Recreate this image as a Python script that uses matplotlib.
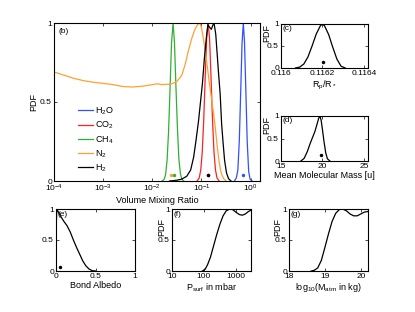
import numpy as np
import matplotlib
matplotlib.use('Agg')
import matplotlib.pyplot as plt

plt.rcParams['font.family'] = ['Liberation Sans', 'DejaVu Sans']
plt.rcParams['mathtext.default'] = 'regular'
plt.rcParams['font.size'] = 6

# ---- (b) volume mixing ratio PDFs, x given as log10(VMR)
h2o_logx = [-0.33, -0.29, -0.26, -0.23, -0.20, -0.175, -0.149, -0.125, -0.10, -0.07, -0.04, -0.01, 0.03]
h2o_pdf = [0, 0.02, 0.07, 0.26, 0.59, 0.87, 1.0, 0.88, 0.60, 0.25, 0.06, 0.01, 0]

co2_logx = [-1.09, -1.045, -1.015, -0.985, -0.955, -0.925, -0.895, -0.865, -0.835, -0.805, -0.775, -0.745, -0.715, -0.685, -0.64]
co2_pdf = [0.0, 0.02, 0.07, 0.18, 0.38, 0.65, 0.90, 1.0, 0.90, 0.65, 0.38, 0.18, 0.07, 0.02, 0.0]

ch4_logx = [-1.80, -1.76, -1.73, -1.70, -1.67, -1.64, -1.61, -1.578, -1.55, -1.52, -1.49, -1.46, -1.43, -1.40, -1.36]
ch4_pdf = [0, 0.01, 0.04, 0.13, 0.31, 0.58, 0.87, 1.0, 0.88, 0.60, 0.34, 0.14, 0.05, 0.01, 0]

n2_logx = [-4.0, -3.8, -3.6, -3.4, -3.2, -3.0, -2.8, -2.6, -2.4, -2.2, -2.0, -1.9, -1.8, -1.7,
           -1.6, -1.5, -1.4, -1.33, -1.27, -1.2, -1.14, -1.08, -1.03, -1.0, -0.96, -0.92, -0.88,
           -0.84, -0.80, -0.76, -0.72, -0.68, -0.64, -0.60, -0.55, -0.50]
n2_pdf = [0.69, 0.67, 0.65, 0.635, 0.625, 0.618, 0.61, 0.598, 0.595, 0.600, 0.610, 0.615, 0.610, 0.612,
          0.615, 0.63, 0.67, 0.74, 0.82, 0.90, 0.955, 0.99, 1.0, 0.97, 0.90, 0.81, 0.72,
          0.62, 0.53, 0.44, 0.34, 0.22, 0.12, 0.05, 0.015, 0.0]

h2_logx = [-1.65, -1.5, -1.4, -1.3, -1.22, -1.16, -1.11, -1.06, -1.02, -0.98, -0.94, -0.90, -0.87,
           -0.84, -0.80, -0.77, -0.745, -0.71, -0.68, -0.65, -0.62, -0.59, -0.56, -0.53, -0.49, -0.45, -0.40]
h2_pdf = [0, 0.005, 0.012, 0.03, 0.07, 0.15, 0.26, 0.38, 0.50, 0.62, 0.78, 0.91, 0.99,
          0.975, 0.96, 0.985, 1.0, 0.93, 0.80, 0.67, 0.55, 0.36, 0.24, 0.13, 0.05, 0.015, 0]

gas_names = ['H$_2$O', 'CO$_2$', 'CH$_4$', 'N$_2$', 'H$_2$']
gas_colors = ['#3050ff', '#ff2020', '#30b030', '#ffa030', 'k']
true_logx = [-0.149, -0.863, -1.557, -1.63, -0.863]
true_pdf_b = 0.035

# ---- (c) Rp/R*
rp_x = [0.11607, 0.11609, 0.11611, 0.11613, 0.11615, 0.11617, 0.11619, 0.1162, 0.11621,
        0.11623, 0.11625, 0.11627, 0.11629, 0.11631]
rp_pdf = [0.0, 0.02, 0.09, 0.25, 0.50, 0.77, 0.96, 1.0, 0.96, 0.76, 0.47, 0.20, 0.04, 0.0]
rp_true = (0.116203, 0.14)

# ---- (d) mean molecular mass
mu_x = [17.4, 17.8, 18.2, 18.5, 18.8, 19.1, 19.35, 19.55, 19.7, 19.85, 20.0, 20.2, 20.4, 20.6, 20.9]
mu_pdf = [0, 0.06, 0.22, 0.38, 0.52, 0.66, 0.82, 0.95, 1.0, 0.90, 0.70, 0.42, 0.18, 0.05, 0]
mu_true = (19.8, 0.14)

# ---- (e) bond albedo
ab_x = [0, 0.01, 0.03, 0.06, 0.1, 0.14, 0.18, 0.22, 0.26, 0.30, 0.34, 0.38, 0.42, 0.46, 0.5]
ab_pdf = [0.6, 1.0, 0.95, 0.88, 0.80, 0.73, 0.63, 0.50, 0.38, 0.27, 0.16, 0.08, 0.03, 0.005, 0]
ab_true = (0.05, 0.07)

# ---- (f) surface pressure
ps_x = [90, 110, 130, 160, 200, 250, 320, 400, 500, 650, 800, 1000, 1300, 1600, 2000, 2500, 3000]
ps_pdf = [0, 0.03, 0.10, 0.22, 0.40, 0.58, 0.76, 0.89, 0.97, 1.0, 0.99, 0.95, 0.91, 0.90, 0.92, 0.96, 0.98]

# ---- (g) atmosphere mass
ma_x = [18.62, 18.7, 18.8, 18.9, 19.0, 19.1, 19.2, 19.3, 19.4, 19.5, 19.6, 19.7, 19.8, 19.9, 20.0, 20.1, 20.2]
ma_pdf = [0, 0.01, 0.05, 0.17, 0.38, 0.60, 0.80, 0.93, 0.99, 1.0, 0.97, 0.92, 0.89, 0.89, 0.92, 0.95, 0.96]

W, H = 415.0, 312.0


def box(l, t, r, b):
    return [l / W, 1 - b / H, (r - l) / W, (b - t) / H]


def style(ax, letter):
    ax.tick_params(direction='in', top=True, right=True, length=2.5, width=0.5, pad=1.5, labelsize=6)
    ax.tick_params(which='minor', length=0)
    for s in ax.spines.values():
        s.set_linewidth(0.8)
    ax.set_ylim(0, 1)
    ax.set_yticks([0, 0.5, 1])
    ax.set_yticklabels(['0', '0.5', '1'])
    ax.text(0.02, 0.97, letter, transform=ax.transAxes, va='top', ha='left', fontsize=6)


def pdf_label(ax, x, y):
    ax.set_ylabel('PDF', fontsize=6.5)
    ax.yaxis.set_label_coords(x, y)


fig = plt.figure(figsize=(4.15, 3.12), dpi=100)
lw = 0.9

# (b)
ax = fig.add_axes(box(54, 23, 260, 181))
for lx, p, name, c in zip([h2o_logx, co2_logx, ch4_logx, n2_logx, h2_logx],
                          [h2o_pdf, co2_pdf, ch4_pdf, n2_pdf, h2_pdf], gas_names, gas_colors):
    ax.plot(10 ** np.array(lx), p, color=c, lw=lw, label=name)
for lx, c in zip(true_logx, gas_colors):
    ax.plot(10 ** lx, true_pdf_b, 'o', color=c, ms=2.5, mec='none')
ax.set_xscale('log')
ax.set_xlim(1e-4, 1.55)
ax.set_xticks([1e-4, 1e-3, 1e-2, 1e-1, 1e0])
style(ax, '(b)')
ax.set_xlabel('Volume Mixing Ratio', fontsize=6.5, labelpad=1)
pdf_label(ax, -0.075, 0.5)
ax.legend(loc='upper left', bbox_to_anchor=(0.1, 0.5), frameon=False, fontsize=6.5,
          handlelength=1.6, handletextpad=0.3, labelspacing=0.3, borderaxespad=0)

# (c)
ax = fig.add_axes(box(281, 24, 368, 68))
ax.plot(rp_x, rp_pdf, 'k', lw=lw)
ax.plot(*rp_true, 'ko', ms=2.5, mec='none')
ax.set_xlim(0.116, 0.11642)
ax.set_xticks([0.116, 0.1162, 0.1164])
ax.set_xticklabels(['0.116', '0.1162', '0.1164'])
style(ax, '(c)')
ax.set_xlabel('R$_p$/R$_*$', fontsize=6.5, labelpad=1)
pdf_label(ax, -0.115, 0.79)

# (d)
ax = fig.add_axes(box(281, 116, 368, 161))
ax.plot(mu_x, mu_pdf, 'k', lw=lw)
ax.plot(*mu_true, 'ko', ms=2.5, mec='none')
ax.set_xlim(15, 25.5)
ax.set_xticks([15, 20, 25])
style(ax, '(d)')
ax.set_xlabel('Mean Molecular Mass [u]', fontsize=6.5, labelpad=1)
pdf_label(ax, -0.115, 0.79)

# (e)
ax = fig.add_axes(box(56, 209, 135, 271))
ax.plot(ab_x, ab_pdf, 'k', lw=lw)
ax.plot(*ab_true, 'ko', ms=2.5, mec='none')
ax.set_xlim(0, 1)
ax.set_xticks([0, 0.5, 1])
ax.set_xticklabels(['0', '0.5', '1'])
style(ax, '(e)')
ax.set_xlabel('Bond Albedo', fontsize=6.5, labelpad=1)

# (f)
ax = fig.add_axes(box(172, 209, 251, 271))
ax.plot(ps_x, ps_pdf, 'k', lw=lw)
ax.set_xscale('log')
ax.set_xlim(10, 3000)
ax.set_xticks([10, 100, 1000])
ax.set_xticklabels(['10', '100', '1000'])
style(ax, '(f)')
ax.set_xlabel('P$_{surf}$ in mbar', fontsize=6.5, labelpad=1)
pdf_label(ax, -0.07, 0.71)

# (g)
ax = fig.add_axes(box(289, 209, 368, 271))
ax.plot(ma_x, ma_pdf, 'k', lw=lw)
ax.set_xlim(18, 20.2)
ax.set_xticks([18, 19, 20])
style(ax, '(g)')
ax.set_xlabel('log$_{10}$(M$_{atm}$ in kg)', fontsize=6.5, labelpad=1)
pdf_label(ax, -0.09, 0.71)

fig.savefig('out.png', dpi=100)
